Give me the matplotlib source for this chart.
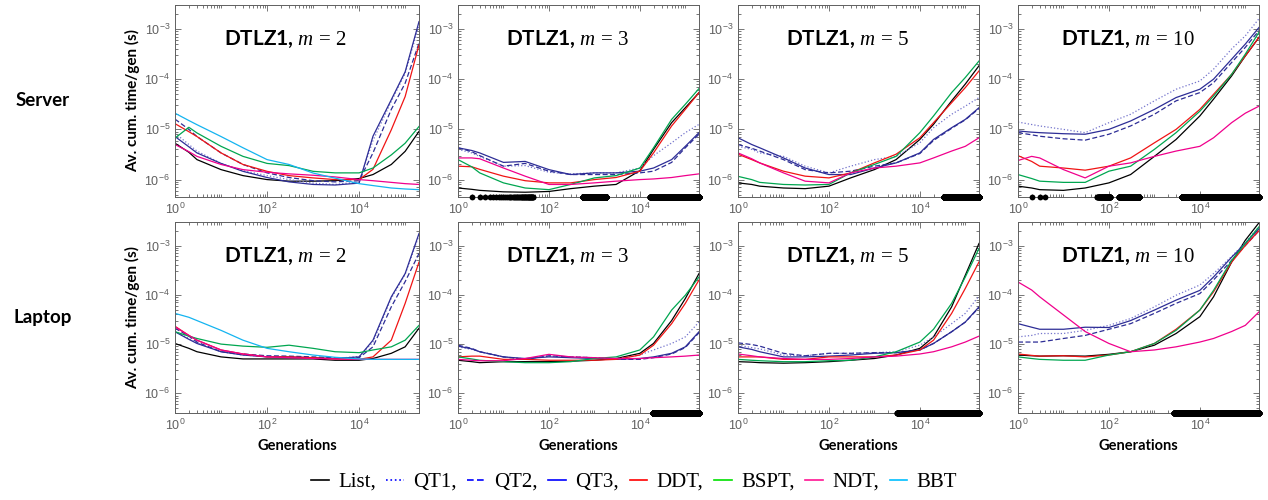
import matplotlib
matplotlib.use("Agg")
import matplotlib.pyplot as plt
from matplotlib.lines import Line2D
from matplotlib.ticker import FixedLocator, LogLocator, NullFormatter
import numpy as np

plt.rcParams['font.family'] = ['Liberation Sans', 'DejaVu Sans']
plt.rcParams['mathtext.fontset'] = 'custom'
plt.rcParams['mathtext.rm'] = 'Liberation Serif'
plt.rcParams['mathtext.it'] = 'Liberation Serif:italic'
plt.rcParams['mathtext.bf'] = 'Liberation Serif:bold'

# generations at which the curves were read (values below are in microseconds)
gens = [1, 2, 3, 10, 30, 100, 300, 1000, 3000, 10000, 20000, 50000, 100000, 200000]

server_m2 = {
    'List': [5.3, 3.5, 2.5, 1.58, 1.2, 1.0, 0.93, 0.93, 0.95, 1.05, 1.26, 2.0, 3.65, 9.1],
    'QT1':  [8.4, 5.0, 3.7, 2.1, 1.5, 1.2, 1.0, 0.85, 0.8, 0.9, 6.0, 36, 130, 1200],
    'QT2':  [16, 10, 7.2, 3.4, 2.0, 1.36, 1.1, 0.95, 0.9, 0.95, 3.4, 25, 83, 520],
    'QT3':  [7.2, 4.5, 3.4, 2.1, 1.46, 1.1, 0.9, 0.8, 0.78, 0.85, 7.3, 39, 140, 1400],
    'DDT':  [13, 9, 7.2, 3.4, 2.0, 1.46, 1.2, 1.08, 1.0, 1.0, 1.6, 9.8, 45, 480],
    'BSPT': [6.7, 11, 8.5, 4.6, 2.9, 2.1, 1.9, 1.46, 1.36, 1.36, 1.7, 3.1, 5.3, 11.4],
    'NDT':  [5.0, 3.6, 2.9, 2.0, 1.58, 1.4, 1.3, 1.22, 1.13, 1.0, 0.95, 0.88, 0.83, 0.80],
    'BBT':  [21, 15, 12.4, 7.2, 4.3, 2.5, 2.0, 1.35, 1.07, 0.83, 0.76, 0.68, 0.65, 0.63],
}
server_m3 = {
    'List': [0.68, 0.64, 0.61, 0.57, 0.56, 0.58, 0.66, 0.74, 0.8, 1.5, 4.0, 13.6, 27, 54],
    'QT1':  [4.0, 3.4, 2.9, 1.85, 1.9, 1.4, 1.3, 1.36, 1.36, 1.7, 3.0, 5.4, 8.6, 12.6],
    'QT2':  [4.3, 3.6, 3.0, 1.85, 2.1, 1.47, 1.26, 1.26, 1.26, 1.36, 1.47, 2.2, 4.3, 8.0],
    'QT3':  [4.3, 3.8, 3.4, 2.2, 2.3, 1.58, 1.26, 1.36, 1.36, 1.47, 1.7, 2.5, 4.6, 8.6],
    'DDT':  [1.85, 1.8, 1.6, 1.17, 0.95, 0.86, 0.86, 1.0, 1.1, 1.47, 3.4, 11.7, 25, 54],
    'BSPT': [2.5, 1.8, 1.36, 0.86, 0.68, 0.63, 0.8, 1.08, 1.2, 1.7, 4.3, 15.8, 31.6, 65],
    'NDT':  [2.7, 2.7, 2.6, 1.7, 1.17, 0.8, 0.8, 0.86, 0.93, 1.0, 1.03, 1.1, 1.2, 1.3],
}
server_m5 = {
    'List': [0.86, 0.8, 0.74, 0.68, 0.66, 0.74, 1.08, 1.58, 2.5, 6.3, 12.6, 37, 80, 185],
    'QT1':  [4.6, 4.0, 3.4, 2.9, 1.85, 1.36, 1.85, 2.5, 2.9, 5.4, 10.8, 20, 29, 43],
    'QT2':  [5.0, 4.2, 3.7, 2.5, 1.58, 1.36, 1.47, 1.85, 2.15, 3.3, 6.0, 10.5, 15.5, 26],
    'QT3':  [6.8, 5.0, 4.3, 2.7, 1.7, 1.26, 1.26, 1.7, 2.15, 3.4, 6.3, 10.8, 15.8, 27],
    'DDT':  [3.2, 2.5, 2.15, 1.47, 1.17, 1.08, 1.36, 2.15, 3.2, 6.8, 13.6, 34, 68, 146],
    'BSPT': [1.16, 1.0, 0.88, 0.8, 0.78, 0.8, 1.36, 2.0, 2.9, 8.6, 18.5, 54, 108, 230],
    'NDT':  [3.4, 2.6, 2.15, 1.36, 0.93, 0.86, 1.36, 1.7, 1.85, 2.15, 2.7, 3.7, 4.6, 6.8],
}
server_m10 = {
    'List': [0.74, 0.68, 0.63, 0.61, 0.68, 0.86, 1.26, 2.9, 6.3, 18.5, 40, 116, 290, 680],
    'QT1':  [14, 12.5, 11.7, 10, 8.6, 13.6, 20, 37, 63, 92, 158, 400, 730, 1600],
    'QT2':  [8.6, 7.8, 7.3, 6.5, 6.1, 8.0, 11.7, 20, 37, 54, 85, 215, 430, 930],
    'QT3':  [9.3, 8.8, 8.6, 8.2, 8.0, 10, 14.7, 25, 43, 63, 100, 250, 500, 1070],
    'DDT':  [3.0, 2.3, 1.85, 1.7, 1.54, 1.85, 2.7, 5.4, 10, 25, 50, 125, 290, 680],
    'BSPT': [1.26, 1.05, 0.93, 0.88, 0.88, 1.47, 1.85, 4.0, 8.6, 23, 46, 125, 315, 860],
    'NDT':  [2.4, 2.9, 2.7, 1.58, 1.08, 1.85, 2.15, 2.9, 3.7, 4.6, 6.8, 13.6, 21, 29],
}
laptop_m2 = {
    'List': [10.3, 8.2, 7.0, 5.5, 5.0, 5.0, 5.0, 5.0, 4.7, 4.7, 5.1, 6.5, 8.8, 21],
    'QT1':  [18, 13, 10.5, 7.0, 6.0, 5.6, 5.5, 5.3, 5.1, 5.6, 11, 85, 260, 1600],
    'QT2':  [21, 14.5, 11, 7.0, 6.3, 5.8, 5.7, 5.5, 5.3, 5.3, 8.8, 57, 185, 690],
    'QT3':  [17.8, 12.5, 10.3, 7.0, 6.0, 5.5, 5.5, 5.3, 5.1, 5.5, 12, 91, 270, 1750],
    'DDT':  [23, 15, 12, 7.6, 6.3, 5.5, 5.5, 5.3, 5.0, 4.9, 5.5, 12, 67, 460],
    'BSPT': [17.8, 14.5, 13, 10, 9.1, 8.6, 9.5, 8.2, 7.0, 6.7, 7.6, 8.8, 12, 24],
    'NDT':  [22.4, 15, 12, 7.6, 6.3, 5.5, 5.3, 5.1, 5.0, 4.9, 4.9, 4.9, 4.9, 4.9],
    'BBT':  [42, 35, 30, 19, 12, 8.2, 7.0, 6.0, 5.4, 5.0, 4.9, 4.9, 4.9, 4.9],
}
laptop_m3 = {
    'List': [4.7, 4.4, 4.2, 4.4, 4.4, 4.4, 4.5, 4.7, 5.1, 6.5, 10.3, 30, 84, 270],
    'QT1':  [8.8, 7.8, 7.0, 5.5, 5.0, 5.7, 5.5, 5.3, 5.0, 6.0, 7.6, 10.3, 14, 28],
    'QT2':  [9.5, 8.2, 7.0, 5.5, 4.9, 5.8, 5.5, 5.3, 4.9, 4.9, 5.3, 6.3, 8.5, 17],
    'QT3':  [9.1, 8.0, 7.0, 5.5, 5.1, 5.5, 5.3, 5.1, 4.9, 5.1, 5.5, 6.5, 8.8, 17.8],
    'DDT':  [5.5, 5.7, 5.7, 4.9, 4.9, 4.7, 4.7, 4.7, 4.9, 6.0, 9.5, 26, 67, 200],
    'BSPT': [5.5, 5.0, 4.7, 4.4, 4.2, 4.2, 4.4, 5.1, 5.5, 7.6, 14, 49, 98, 230],
    'NDT':  [4.9, 4.7, 4.6, 4.6, 5.1, 6.2, 5.5, 5.3, 5.1, 5.1, 5.3, 5.5, 5.7, 6.0],
}
laptop_m5 = {
    'List': [4.4, 4.3, 4.2, 4.1, 4.2, 4.4, 4.7, 5.1, 6.0, 8.2, 14, 57, 250, 1100],
    'QT1':  [9.5, 8.5, 8.0, 6.0, 5.8, 6.5, 6.5, 6.7, 7.0, 9.5, 14, 26, 42, 95],
    'QT2':  [10.6, 9.8, 9.1, 6.5, 5.8, 6.5, 6.5, 6.7, 6.7, 7.6, 10.3, 17.8, 28, 55],
    'QT3':  [8.8, 7.8, 7.0, 5.5, 5.5, 5.7, 6.0, 6.5, 6.7, 7.6, 10.3, 17.8, 28, 57],
    'DDT':  [5.5, 5.5, 5.5, 4.9, 4.9, 5.5, 5.5, 5.5, 6.0, 7.6, 12, 42, 135, 465],
    'BSPT': [4.9, 4.7, 4.6, 4.4, 4.4, 4.6, 4.7, 5.5, 7.0, 11, 20, 67, 230, 870],
    'NDT':  [6.3, 5.8, 5.5, 5.1, 4.9, 4.9, 5.1, 5.5, 5.7, 6.3, 7.0, 8.8, 11, 14.5],
}
laptop_m10 = {
    'List': [6.0, 5.8, 5.7, 5.8, 5.7, 6.2, 7.0, 9.5, 16.4, 36, 91, 460, 1280, 2900],
    'QT1':  [14, 15, 16.4, 16.4, 19, 24, 33, 57, 98, 158, 270, 600, 1150, 2400],
    'QT2':  [11, 11, 11, 13, 15, 20, 26, 42, 67, 106, 200, 500, 1000, 2000],
    'QT3':  [26, 22, 20, 20, 22, 21.7, 30, 49, 78, 123, 230, 580, 1100, 2200],
    'DDT':  [6.3, 5.9, 5.7, 5.8, 5.5, 6.0, 7.0, 10.3, 20, 49, 115, 460, 1000, 2000],
    'BSPT': [5.5, 5.1, 4.9, 4.7, 4.7, 6.0, 7.0, 10.3, 19, 49, 123, 500, 1100, 2400],
    'NDT':  [182, 125, 91, 39, 18, 10.3, 7.0, 7.6, 8.8, 11, 13, 18, 24, 45],
}

# generation ranges marked with black dots on the bottom axis
server_m2_marks = []
server_m3_marks = [(2, 45), (560, 1800), (17000, 200000)]
server_m5_marks = [(34000, 200000)]
server_m10_marks = [(2, 4), (55, 108), (165, 460), (4000, 200000)]
laptop_m2_marks = []
laptop_m3_marks = [(19000, 200000)]
laptop_m5_marks = [(3200, 200000)]
laptop_m10_marks = [(2700, 200000)]

objectives = [2, 3, 5, 10]
machines = ['Server', 'Laptop']
panels = [[server_m2, server_m3, server_m5, server_m10],
          [laptop_m2, laptop_m3, laptop_m5, laptop_m10]]
marks = [[server_m2_marks, server_m3_marks, server_m5_marks, server_m10_marks],
         [laptop_m2_marks, laptop_m3_marks, laptop_m5_marks, laptop_m10_marks]]

styles = {
    'List': dict(color='k', ls='-'),
    'QT1': dict(color='#7474cc', ls=':'),
    'QT2': dict(color='#2d2d96', ls=(0, (4, 2))),
    'QT3': dict(color='#2d2d96', ls='-'),
    'DDT': dict(color='#f01414', ls='-'),
    'BSPT': dict(color='#00a650', ls='-'),
    'NDT': dict(color='#f0008c', ls='-'),
    'BBT': dict(color='#14b4f0', ls='-'),
}
legend_colors = {'List': 'k', 'QT1': '#0000ff', 'QT2': '#0000ff', 'QT3': '#0000ff',
                 'DDT': '#ff0000', 'BSPT': '#00e000', 'NDT': '#ff1493', 'BBT': '#00bfff'}

W, H = 1268, 500
fig = plt.figure(figsize=(W / 100, H / 100), dpi=100)
lefts = [175, 458, 738, 1018]
widths = [244, 241, 241, 241]
rows_px = [(5, 197), (222, 413)]
ylims = [(4.5e-7, 3e-3), (4e-7, 3e-3)]
grey = '#606060'

for r in range(2):
    top, bot = rows_px[r]
    for c in range(4):
        ax = fig.add_axes([lefts[c] / W, 1 - bot / H, widths[c] / W, (bot - top) / H])
        data = panels[r][c]
        for name, vals in data.items():
            st = styles[name]
            ax.plot(gens, np.array(vals) * 1e-6, color=st['color'], ls=st['ls'], lw=0.9)
        for lo, hi in marks[r][c]:
            pts = np.unique(np.geomspace(lo, hi, 1500).astype(int))
            ax.plot(pts, np.zeros(len(pts)), 'o', color='k', ms=4.2, mew=0,
                    transform=ax.get_xaxis_transform(), clip_on=False, zorder=5)
        ax.set_xscale('log')
        ax.set_yscale('log')
        ax.set_xlim(1, 2e5)
        ax.set_ylim(*ylims[r])
        ax.xaxis.set_major_locator(FixedLocator([1, 1e2, 1e4]))
        ax.xaxis.set_minor_locator(LogLocator(base=10, subs=np.arange(1, 10), numticks=20))
        ax.yaxis.set_major_locator(FixedLocator([1e-6, 1e-5, 1e-4, 1e-3]))
        ax.yaxis.set_minor_locator(LogLocator(base=10, subs=np.arange(2, 10), numticks=20))
        ax.xaxis.set_minor_formatter(NullFormatter())
        ax.yaxis.set_minor_formatter(NullFormatter())
        ax.tick_params(which='both', direction='in', top=True, right=True,
                       color=grey, labelcolor=grey, labelsize=9, width=0.6)
        ax.tick_params(which='major', length=4)
        ax.tick_params(which='minor', length=2)
        for sp in ax.spines.values():
            sp.set_color(grey)
            sp.set_linewidth(0.7)
        ax.text(0.455, 0.82, r'DTLZ1, $m\,=\,%d$' % objectives[c], transform=ax.transAxes,
                ha='center', va='center', fontsize=15, fontweight='bold', family='Lato')
        if c == 0:
            ax.set_ylabel('Av. cum. time/gen (s)', fontsize=11, fontweight='bold',
                          family='Lato')
            ax.yaxis.set_label_coords(-0.145, 0.5)
        if r == 1:
            ax.set_xlabel('Generations', fontsize=10.5, fontweight='bold', family='Lato',
                          labelpad=4)
    fig.text(43 / W, 1 - (top + bot) / 2 / H, machines[r], ha='center', va='center',
             fontsize=13.5, fontweight='bold', family='Lato')

names = ['List', 'QT1', 'QT2', 'QT3', 'DDT', 'BSPT', 'NDT', 'BBT']
handles = [Line2D([], [], color=legend_colors[n], ls=styles[n]['ls'], lw=1.2) for n in names]
labels = [n + ',' for n in names[:-1]] + [names[-1]]
fig.legend(handles, labels, loc='center', bbox_to_anchor=(0.5, 0.036), ncol=8,
           frameon=False, handlelength=0.85, handletextpad=0.45, columnspacing=0.5,
           prop={'family': 'Liberation Serif', 'size': 15})

fig.savefig('out.png', dpi=100)
